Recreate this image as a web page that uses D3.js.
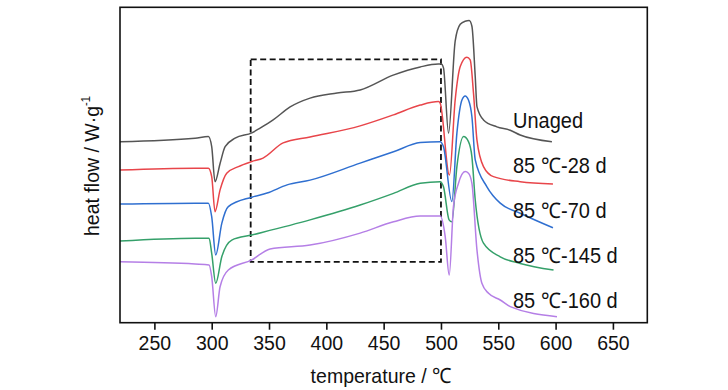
<!DOCTYPE html>
<html>
<head>
<meta charset="utf-8">
<script src="https://cdn.jsdelivr.net/npm/d3@7/dist/d3.min.js"></script>
<style>
  html, body { margin: 0; padding: 0; background: #fff; }
  svg { display: block; }
  text { font-family: "Liberation Sans", Arial, sans-serif; fill: #111; }
</style>
</head>
<body>
<svg id="chart" width="728" height="390"></svg>
<script>
// ---- data (temperature in °C, heat flow in arbitrary offset units) ----
const seriesNames = ["Unaged", "85 ℃-28 d", "85 ℃-70 d", "85 ℃-145 d", "85 ℃-160 d"];
const xTicks = [250, 300, 350, 400, 450, 500, 550, 600, 650];

const unagedT = [220, 285.5, 297.1, 300.0, 302.9, 307.3, 311.7, 320.4, 335.0, 342.2, 353.6, 368.4, 385.8, 409.4, 429.5, 458.3, 481.9, 497.6, 500.2, 502.2, 506.6, 512.4, 516.8, 521.1, 524.6, 527.0, 529.9, 531.4, 537.1, 548.8, 560.4, 569.1, 596.8];
const unagedV = [5.74, 5.85, 5.90, 5.58, 4.47, 5.05, 5.58, 5.85, 6.02, 6.17, 6.43, 6.84, 7.12, 7.28, 7.38, 7.85, 8.11, 8.20, 8.20, 8.08, 6.01, 8.93, 9.46, 9.56, 9.58, 9.40, 7.80, 6.85, 6.43, 6.21, 6.10, 5.95, 5.74];

const aged28T = [220, 285.5, 297.1, 300.0, 302.9, 307.3, 313.1, 323.3, 335.0, 344.8, 362.3, 385.8, 429.5, 458.6, 481.9, 497.8, 499.3, 507.4, 512.4, 516.8, 522.6, 525.5, 528.4, 531.4, 537.1, 545.8, 569.1, 597.7];
const aged28V = [4.84, 4.90, 4.90, 4.63, 3.52, 4.21, 4.74, 4.95, 5.11, 5.22, 5.70, 5.89, 6.24, 6.59, 6.90, 7.01, 6.96, 4.68, 7.06, 8.12, 8.42, 8.33, 7.27, 5.79, 4.95, 4.63, 4.47, 4.40];

const aged70T = [220, 285.5, 297.1, 300.0, 303.5, 308.8, 314.5, 335.0, 348.3, 365.8, 385.8, 429.5, 458.6, 481.9, 499.3, 502.2, 509.5, 513.9, 518.3, 521.1, 524.0, 527.0, 529.9, 540.1, 551.7, 569.1, 597.7];
const aged70V = [3.76, 3.79, 3.79, 3.36, 2.15, 3.15, 3.68, 3.98, 4.11, 4.37, 4.52, 5.06, 5.42, 5.71, 5.74, 5.58, 3.84, 6.01, 7.06, 7.19, 7.06, 6.53, 5.16, 4.31, 3.79, 3.47, 3.01];

const aged145T = [220, 285.5, 297.7, 300.0, 303.5, 308.8, 317.5, 335.0, 385.8, 429.5, 458.6, 481.9, 499.3, 502.2, 507.1, 509.5, 513.9, 519.7, 524.0, 527.0, 529.9, 537.1, 551.7, 569.1, 598.2];
const aged145V = [2.59, 2.68, 2.68, 2.20, 1.25, 2.09, 2.62, 2.78, 3.26, 3.73, 4.10, 4.42, 4.47, 4.31, 3.26, 3.20, 4.95, 5.90, 5.74, 5.26, 3.89, 2.52, 2.09, 1.88, 1.67];

const aged160T = [220, 285.5, 297.7, 300.0, 303.5, 307.3, 314.5, 335.0, 350.9, 385.8, 429.5, 458.6, 481.9, 499.3, 503.7, 507.2, 510.9, 515.3, 521.1, 524.0, 527.0, 531.4, 535.7, 541.5, 551.7, 560.4, 601.2];
const aged160V = [1.93, 1.86, 1.83, 1.46, 0.19, 1.14, 1.67, 1.99, 2.34, 2.46, 2.84, 3.20, 3.38, 3.38, 2.73, 1.51, 3.68, 4.42, 4.79, 4.74, 4.42, 2.31, 1.25, 0.93, 0.72, 0.51, 0.19];

// highlighted region (dashed box): temperature and heat-flow bounds
const boxT = [334, 500];
const boxV = [1.93, 8.35];

const seriesColors = ["#555555", "#e8454a", "#2f6fd0", "#35a06a", "#b57fe6"];

// ---- layout ----
const svg = d3.select("#chart");
const M = { left: 120, right: 647.3, top: 7.3, bottom: 322.7 };
const FS = 21, SX = 0.93;

const x = d3.scaleLinear().domain([220, 680]).range([M.left, M.right]);
const y = d3.scaleLinear().domain([0, 10]).range([M.bottom, M.bottom - 315.4]);

const series = [
  { name: seriesNames[0], t: unagedT, v: unagedV, color: seriesColors[0] },
  { name: seriesNames[1], t: aged28T, v: aged28V, color: seriesColors[1] },
  { name: seriesNames[2], t: aged70T, v: aged70V, color: seriesColors[2] },
  { name: seriesNames[3], t: aged145T, v: aged145V, color: seriesColors[3] },
  { name: seriesNames[4], t: aged160T, v: aged160V, color: seriesColors[4] }
];

const line = d3.line()
  .x(d => x(d[0]))
  .y(d => y(d[1]))
  .curve(d3.curveMonotoneX);

// dashed box
svg.append("rect")
  .attr("x", x(boxT[0]))
  .attr("y", y(boxV[1]))
  .attr("width", x(boxT[1]) - x(boxT[0]))
  .attr("height", y(boxV[0]) - y(boxV[1]))
  .attr("fill", "none")
  .attr("stroke", "#111")
  .attr("stroke-width", 1.8)
  .attr("stroke-dasharray", "6,3.5");

// curves
series.forEach(s => {
  const pts = s.t.map((t, i) => [t, s.v[i]]);
  svg.append("path")
    .datum(pts)
    .attr("d", line)
    .attr("fill", "none")
    .attr("stroke", s.color)
    .attr("stroke-width", 1.5)
    .attr("stroke-linejoin", "round");
});

// frame
svg.append("rect")
  .attr("x", M.left).attr("y", M.top)
  .attr("width", M.right - M.left).attr("height", M.bottom - M.top)
  .attr("fill", "none").attr("stroke", "#111").attr("stroke-width", 1.6);

// x axis
const xAxis = svg.append("g")
  .attr("transform", `translate(0,${M.bottom})`)
  .call(d3.axisBottom(x).tickValues(xTicks).tickSize(7).tickPadding(6).tickFormat(d3.format("d")));
xAxis.select(".domain").remove();
xAxis.selectAll(".tick line").attr("stroke", "#111").attr("stroke-width", 1.6);
xAxis.selectAll(".tick text")
  .attr("font-size", FS)
  .attr("dy", "0.68em")
  .attr("transform", `scale(${SX},1)`)
  .attr("font-family", "'Liberation Sans', Arial, sans-serif")
  .attr("fill", "#111");

// x title
svg.append("text")
  .attr("transform", `translate(381,383) scale(${SX},1)`)
  .attr("text-anchor", "middle")
  .attr("font-size", FS)
  .text("temperature / ℃");

// y title
const yt = svg.append("text")
  .attr("transform", `translate(99,166) rotate(-90) scale(${SX},1)`)
  .attr("text-anchor", "middle")
  .attr("font-size", FS);
yt.append("tspan").text("heat flow / W·g");
yt.append("tspan").attr("font-size", 12).attr("dy", -9).text("-1");

// series labels
series.forEach((s, i) => {
  svg.append("text")
    .attr("transform", `translate(513,${128 + i * 45}) scale(${SX},1)`)
    .attr("font-size", FS + 0.5)
    .text(s.name);
});
</script>
</body>
</html>
